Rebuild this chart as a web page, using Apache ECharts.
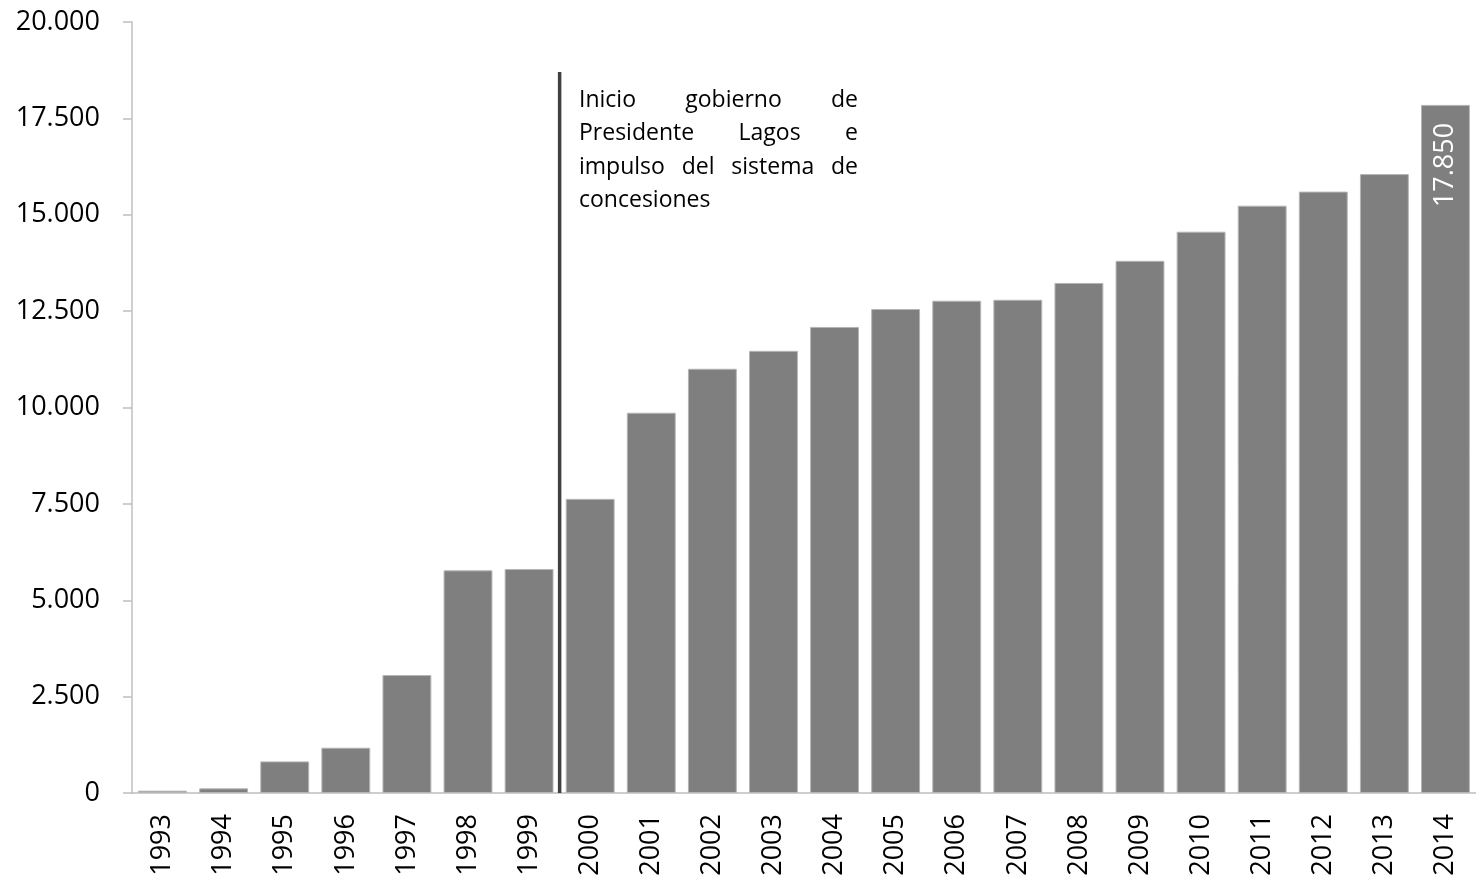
<!DOCTYPE html>
<html>
<head>
<meta charset="utf-8">
<script src="https://cdn.jsdelivr.net/npm/echarts@6/dist/echarts.min.js"></script>
<style>
  html, body { margin: 0; padding: 0; background: #fff; }
  #chart { width: 1476px; height: 881px; }
</style>
</head>
<body>
<div id="chart"></div>
<script>
const years = ['1993', '1994', '1995', '1996', '1997', '1998', '1999', '2000', '2001', '2002', '2003',
  '2004', '2005', '2006', '2007', '2008', '2009', '2010', '2011', '2012', '2013', '2014']
const values = [60, 120, 820, 1175, 3060, 5775, 5810, 7630, 9865, 11005, 11470,
  12090, 12555, 12770, 12795, 13230, 13805, 14560, 15235, 15600, 16055, 17850]
// position of the marker line on a 0..22 value scale (boundary 1999/2000)
const markerLine = [[7, 0], [7, 18700]]
const noteLines = [
  ['Inicio', 'gobierno', 'de'],
  ['Presidente', 'Lagos', 'e'],
  ['impulso', 'del', 'sistema', 'de'],
  ['concesiones']
]

const fontFamily = '"Open Sans", sans-serif'
const noteFont = '23px ' + fontFamily

function fmt(v) {
  return String(v).replace(/\B(?=(\d{3})+(?!\d))/g, '.')
}

// justified text, like the original text box
function buildNote(left, width, top, lineHeight) {
  const ctx = document.createElement('canvas').getContext('2d')
  ctx.font = noteFont
  const items = []
  noteLines.forEach((words, i) => {
    const y = top + i * lineHeight
    const widths = words.map(w => ctx.measureText(w).width)
    const total = widths.reduce((a, b) => a + b, 0)
    const last = i === noteLines.length - 1
    const gap = (!last && words.length > 1) ? (width - total) / (words.length - 1) : ctx.measureText(' ').width
    let x = left
    words.forEach((w, j) => {
      items.push({
        type: 'text',
        left: x,
        top: y,
        style: { text: w, font: noteFont, fill: '#000' }
      })
      x += widths[j] + gap
    })
  })
  return items
}

const chart = echarts.init(document.getElementById('chart'))
const option = {
  animation: false,
  grid: { left: 132, right: 0, top: 22, bottom: 88 },
  xAxis: [{
    type: 'category',
    data: years,
    axisLine: { lineStyle: { color: '#bfbfbf', width: 1.5 } },
    axisTick: { length: 10, lineStyle: { color: '#bfbfbf', width: 1.5 } },
    axisLabel: { rotate: 90, color: '#000', fontSize: 27, fontFamily: fontFamily, margin: 21, interval: 0 }
  }, {
    type: 'value',
    min: 0,
    max: 22,
    show: false
  }],
  yAxis: {
    type: 'value',
    min: 0,
    max: 20000,
    interval: 2500,
    splitLine: { show: false },
    axisLine: { show: true, lineStyle: { color: '#bfbfbf', width: 1.5 } },
    axisTick: { show: true, length: 9, lineStyle: { color: '#bfbfbf', width: 1.5 } },
    axisLabel: { color: '#000', fontSize: 27, fontFamily: fontFamily, margin: 32, formatter: fmt }
  },
  series: [{
    type: 'bar',
    data: values.map((v, i) => i === values.length - 1 ? {
      value: v,
      label: {
        show: true,
        position: 'insideTop',
        rotate: 90,
        align: 'right',
        verticalAlign: 'middle',
        distance: 18,
        color: '#fff',
        fontSize: 27,
        fontFamily: fontFamily,
        formatter: p => fmt(p.value)
      }
    } : v),
    barCategoryGap: '20%',
    itemStyle: { color: '#7f7f7f', borderColor: '#b5b5b5', borderWidth: 1 }
  }, {
    type: 'line',
    xAxisIndex: 1,
    data: markerLine,
    symbol: 'none',
    lineStyle: { color: '#404040', width: 3.5 },
    z: 5
  }],
  graphic: buildNote(579, 279, 89, 33.3)
}
chart.setOption(option)
</script>
</body>
</html>
